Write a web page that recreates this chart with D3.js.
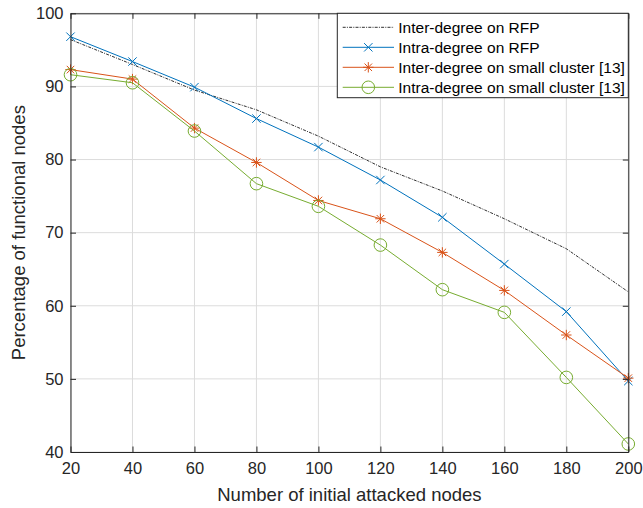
<!DOCTYPE html>
<html>
<head>
<meta charset="utf-8">
<script src="https://cdn.jsdelivr.net/npm/d3@7"></script>
<style>
  html, body { margin: 0; padding: 0; background: #fff; }
  svg { display: block; font-family: "Liberation Sans", Arial, Helvetica, sans-serif; }
</style>
</head>
<body>
<svg id="chart" width="643" height="508"></svg>
<script>
// Attack sizes on the x axis
const attacked = [20, 40, 60, 80, 100, 120, 140, 160, 180, 200];

// Percentage of functional nodes per strategy
const interRFP     = [96.4, 93.0, 89.5, 86.8, 83.2, 79.0, 75.7, 71.9, 67.8, 61.9];
const intraRFP     = [96.8, 93.4, 89.9, 85.6, 81.7, 77.2, 72.1, 65.7, 59.2, 49.7];
const interCluster = [92.3, 91.0, 84.3, 79.6, 74.4, 71.9, 67.3, 62.1, 56.0, 50.1];
const intraCluster = [91.6, 90.5, 83.9, 76.7, 73.6, 68.3, 62.2, 59.1, 50.2, 41.1];

const seriesNames = [
  "Inter-degree on RFP",
  "Intra-degree on RFP",
  "Inter-degree on small cluster [13]",
  "Intra-degree on small cluster [13]"
];

const xTicks = [20, 40, 60, 80, 100, 120, 140, 160, 180, 200];
const yTicks = [40, 50, 60, 70, 80, 90, 100];

const series = [
  { name: seriesNames[0], values: interRFP,     color: "#1a1a1a", dash: "3,1.2,1,1.2", marker: "none",   width: 0.9 },
  { name: seriesNames[1], values: intraRFP,     color: "#0072BD", dash: null,          marker: "cross",  width: 1 },
  { name: seriesNames[2], values: interCluster, color: "#D95319", dash: null,          marker: "star",   width: 1 },
  { name: seriesNames[3], values: intraCluster, color: "#77AC30", dash: null,          marker: "circle", width: 1 }
];

const svg = d3.select("#chart");
const margin = { left: 70.5, right: 643 - 628.3, top: 13.3, bottom: 508 - 452 };
const W = 643, H = 508;
const x = d3.scaleLinear().domain([20, 200]).range([margin.left, W - margin.right]);
const y = d3.scaleLinear().domain([40, 100]).range([H - margin.bottom, margin.top]);

const axisColor = "#262626";

// grid lines
const grid = svg.append("g");
grid.selectAll("line.vx").data(xTicks).join("line")
  .attr("x1", d => x(d)).attr("x2", d => x(d))
  .attr("y1", y(40)).attr("y2", y(100))
  .attr("stroke", "#dcdcdc").attr("stroke-width", 1);
grid.selectAll("line.hy").data(yTicks).join("line")
  .attr("y1", d => y(d)).attr("y2", d => y(d))
  .attr("x1", x(20)).attr("x2", x(200))
  .attr("stroke", "#dcdcdc").attr("stroke-width", 1);

// lines and markers
const line = d3.line().x((d, i) => x(attacked[i])).y(d => y(d));
const plot = svg.append("g");

function drawMarker(g, type, cx, cy, color) {
  if (type === "cross") {
    const s = 4.2;
    g.append("path")
      .attr("d", `M${cx - s},${cy - s}L${cx + s},${cy + s}M${cx - s},${cy + s}L${cx + s},${cy - s}`)
      .attr("stroke", color).attr("stroke-width", 1).attr("fill", "none");
  } else if (type === "star") {
    const s = 5.2, d = s * 0.72;
    g.append("path")
      .attr("d", `M${cx},${cy - s}L${cx},${cy + s}M${cx - s},${cy}L${cx + s},${cy}` +
                 `M${cx - d},${cy - d}L${cx + d},${cy + d}M${cx - d},${cy + d}L${cx + d},${cy - d}`)
      .attr("stroke", color).attr("stroke-width", 1).attr("fill", "none");
  } else if (type === "circle") {
    g.append("circle").attr("cx", cx).attr("cy", cy).attr("r", 6.3)
      .attr("stroke", color).attr("stroke-width", 1).attr("fill", "none");
  }
}

series.forEach(s => {
  plot.append("path")
    .attr("d", line(s.values))
    .attr("fill", "none")
    .attr("stroke", s.color)
    .attr("stroke-width", s.width)
    .attr("stroke-dasharray", s.dash);
  const mg = plot.append("g");
  s.values.forEach((v, i) => drawMarker(mg, s.marker, x(attacked[i]), y(v), s.color));
});

// axes box with inward ticks on all four sides
const tickLen = 5.5;
const axG = svg.append("g");
const bottomAxis = d3.axisBottom(x).tickValues(xTicks).tickSizeInner(-tickLen).tickSizeOuter(0).tickPadding(10);
const leftAxis = d3.axisLeft(y).tickValues(yTicks).tickSizeInner(-tickLen).tickSizeOuter(0).tickPadding(7);
const topAxis = d3.axisTop(x).tickValues(xTicks).tickSizeInner(-tickLen).tickSizeOuter(0).tickFormat("");
const rightAxis = d3.axisRight(y).tickValues(yTicks).tickSizeInner(-tickLen).tickSizeOuter(0).tickFormat("");

function styleAxis(g) {
  g.select(".domain").attr("stroke", axisColor).attr("stroke-width", 1);
  g.selectAll(".tick line").attr("stroke", axisColor);
  g.selectAll(".tick text").attr("fill", axisColor).style("font-size", "16.5px")
    .style("font-family", "'Liberation Sans', Arial, sans-serif");
}
axG.append("g").attr("transform", `translate(0,${y(40)})`).call(bottomAxis).call(styleAxis);
axG.append("g").attr("transform", `translate(${x(20)},0)`).call(leftAxis).call(styleAxis);
axG.append("g").attr("transform", `translate(0,${y(100)})`).call(topAxis).call(styleAxis);
axG.append("g").attr("transform", `translate(${x(200)},0)`).call(rightAxis).call(styleAxis);

// axis titles
svg.append("text")
  .attr("x", (x(20) + x(200)) / 2).attr("y", 501)
  .attr("text-anchor", "middle").attr("fill", axisColor)
  .style("font-size", "18.5px").text("Number of initial attacked nodes");
svg.append("text")
  .attr("transform", `translate(25,${(y(40) + y(100)) / 2}) rotate(-90)`)
  .attr("text-anchor", "middle").attr("fill", axisColor)
  .style("font-size", "18.5px").text("Percentage of functional nodes");

// legend
const lg = svg.append("g");
const lx0 = 337.3, ly0 = y(100), lx1 = x(200), ly1 = 97.7;
lg.append("rect").attr("x", lx0).attr("y", ly0).attr("width", lx1 - lx0).attr("height", ly1 - ly0)
  .attr("fill", "#fff").attr("stroke", axisColor).attr("stroke-width", 1);
series.forEach((s, i) => {
  const cy = 27.3 + i * 20;
  lg.append("line").attr("x1", 342.7).attr("x2", 394).attr("y1", cy).attr("y2", cy)
    .attr("stroke", s.color).attr("stroke-width", s.width).attr("stroke-dasharray", s.dash);
  drawMarker(lg, s.marker, 368.3, cy, s.color);
  lg.append("text").attr("x", 398.3).attr("y", cy).attr("dy", "0.35em")
    .attr("fill", "#000").style("font-size", "15.5px").text(s.name);
});
</script>
</body>
</html>
